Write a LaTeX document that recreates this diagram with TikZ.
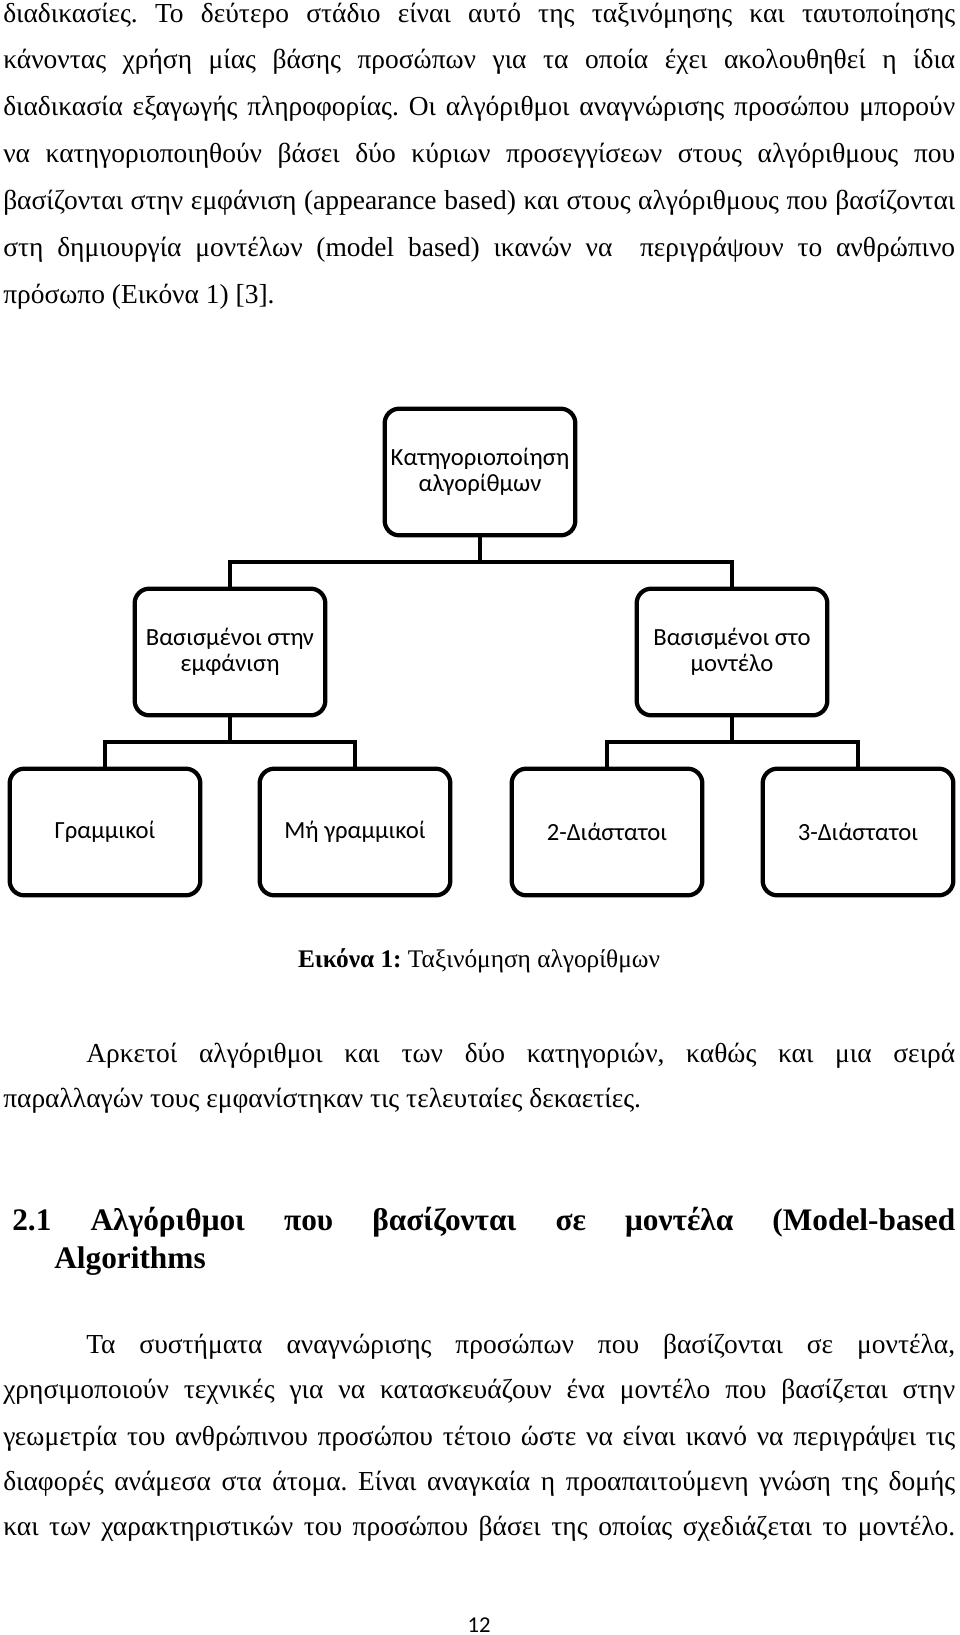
\documentclass[tikz,border=0pt]{standalone}
\usepackage{fontspec}
\setmainfont{Liberation Serif}
\newfontfamily\diag{Carlito}
\frenchspacing
\begin{document}
\begin{tikzpicture}[x=0.75pt,y=-0.75pt,
  body/.style={anchor=base west,inner sep=0pt,font=\fontsize{20.6}{24}\selectfont},
  bodyc/.style={anchor=base,inner sep=0pt,font=\fontsize{19}{22}\selectfont},
  head/.style={anchor=base west,inner sep=0pt,font=\fontsize{23.5}{26}\selectfont\bfseries},
  box/.style={draw,line width=3.2pt,rounded corners=11pt,align=center,inner sep=0pt,
     font=\diag\fontsize{18.5}{19.5}\selectfont,minimum width=143pt,minimum height=95pt},
  conn/.style={line width=3.2pt}]
\useasboundingbox (0,0) rectangle (960,1635);
% paragraph 1
\node[body] (p1) at (3,22) {\makebox[714pt][s]{διαδικασίες. Το δεύτερο στάδιο είναι αυτό της ταξινόμησης και ταυτοποίησης}};
\node[body] (p2) at (3,68) {\makebox[714pt][s]{κάνοντας χρήση μίας βάσης προσώπων για τα οποία έχει ακολουθηθεί η ίδια}};
\node[body] (p3) at (3,115) {\makebox[714pt][s]{διαδικασία εξαγωγής πληροφορίας. Οι αλγόριθμοι αναγνώρισης προσώπου μπορούν}};
\node[body] (p4) at (3,162) {\makebox[714pt][s]{να κατηγοριοποιηθούν βάσει δύο κύριων προσεγγίσεων στους αλγόριθμους που}};
\node[body] (p5) at (3,209) {\makebox[714pt][s]{βασίζονται στην εμφάνιση (appearance based) και στους αλγόριθμους που βασίζονται}};
\node[body] (p6) at (3,256) {\makebox[714pt][s]{στη δημιουργία μοντέλων (model based) ικανών να \ περιγράψουν το ανθρώπινο}};
\node[body] (p7) at (3,303) {πρόσωπο (Εικόνα 1) [3].};
% diagram
\node[box] (root) at (480,472) {Κατηγοριοποίηση\\αλγορίθμων};
\node[box] (app) at (230,652) {Βασισμένοι στην\\εμφάνιση};
\node[box] (mod) at (732,652) {Βασισμένοι στο\\μοντέλο};
\node[box] (lin) at (105,832) {Γραμμικοί};
\node[box] (nlin) at (355,832) {Μή γραμμικοί};
\node[box] (d2) at (607,832) {2-Διάστατοι};
\node[box] (d3) at (858,832) {3-Διάστατοι};
\coordinate (j1) at (480,562);
\coordinate (j2) at (230,742);
\coordinate (j3) at (732,742);
\draw[conn] (root.south) -- (j1);
\draw[conn] (j1) -| (app.north);
\draw[conn] (j1) -| (mod.north);
\draw[conn] (app.south) -- (j2);
\draw[conn] (j2) -| (lin.north);
\draw[conn] (j2) -| (nlin.north);
\draw[conn] (mod.south) -- (j3);
\draw[conn] (j3) -| (d2.north);
\draw[conn] (j3) -| (d3.north);
% caption
\node[bodyc] (cap) at (479,967) {\textbf{Εικόνα 1:} Ταξινόμηση αλγορίθμων};
% paragraph 2
\node[body] (q1) at (86,1062) {\makebox[651.75pt][s]{Αρκετοί αλγόριθμοι και των δύο κατηγοριών, καθώς και μια σειρά}};
\node[body] (q2) at (3,1107) {παραλλαγών τους εμφανίστηκαν τις τελευταίες δεκαετίες.};
% heading
\node[head] (h1) at (12,1230) {\makebox[707.25pt][s]{2.1 Αλγόριθμοι που βασίζονται σε μοντέλα (Model-based}};
\node[head] (h2) at (54,1268) {Algorithms};
% paragraph 3
\node[body] (r1) at (86,1353) {\makebox[651.75pt][s]{Τα συστήματα αναγνώρισης προσώπων που βασίζονται σε μοντέλα,}};
\node[body] (r2) at (3,1398) {\makebox[714pt][s]{χρησιμοποιούν τεχνικές για να κατασκευάζουν ένα μοντέλο που βασίζεται στην}};
\node[body] (r3) at (3,1445) {\makebox[714pt][s]{γεωμετρία του ανθρώπινου προσώπου τέτοιο ώστε να είναι ικανό να περιγράψει τις}};
\node[body] (r4) at (3,1490) {\makebox[714pt][s]{διαφορές ανάμεσα στα άτομα. Είναι αναγκαία η προαπαιτούμενη γνώση της δομής}};
\node[body] (r5) at (3,1535) {\makebox[714pt][s]{και των χαρακτηριστικών του προσώπου βάσει της οποίας σχεδιάζεται το μοντέλο.}};
% page number
\node[anchor=base,inner sep=0pt,font=\diag\fontsize{17}{20}\selectfont] (pg) at (479,1632) {12};
\end{tikzpicture}
\end{document}
